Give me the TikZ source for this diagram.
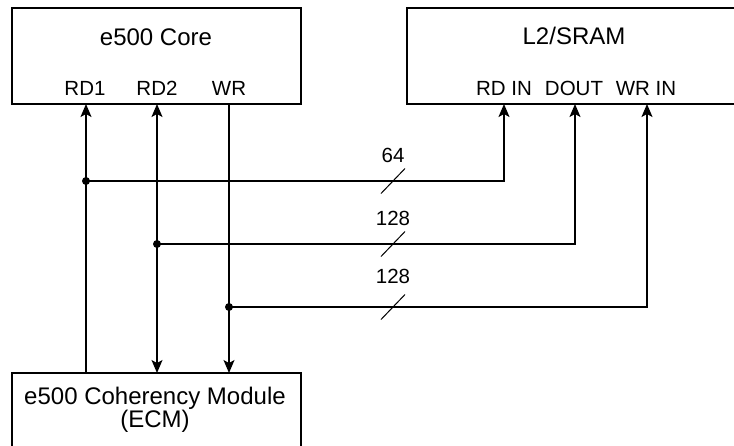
\documentclass[tikz,border=0pt]{standalone}
\usepackage{fontspec}
\setmainfont{Liberation Sans}
\usetikzlibrary{arrows.meta}
\begin{document}
\begin{tikzpicture}[x=1pt,y=-1pt,
  blk/.style={draw,line width=1.6pt,rectangle,inner sep=0pt},
  ttl/.style={font=\fontsize{24}{24}\selectfont,anchor=base,inner sep=0pt},
  lbl/.style={font=\fontsize{20.5}{22}\selectfont,anchor=base,inner sep=0pt},
  wire/.style={line width=1.3pt},
  arr/.style={wire,-{Stealth[length=13pt,width=11pt,inset=3pt]}},
  darr/.style={wire,{Stealth[length=13pt,width=11pt,inset=3pt]}-{Stealth[length=13pt,width=11pt,inset=3pt]}},
  dot/.style={circle,fill,inner sep=0pt,minimum size=8pt},
  slash/.style={line width=1pt}]
\useasboundingbox (0,0) rectangle (734,445);
% boxes
\node[blk,minimum width=289pt,minimum height=96pt] (core) at (156.5,56) {};
\node[blk,minimum width=334pt,minimum height=96pt] (l2) at (574,56) {};
\node[blk,minimum width=289pt,minimum height=90pt] (ecm) at (156.5,418) {};
% titles
\node[ttl] (coret) at (156,45) {e500 Core};
\node[ttl] (l2t) at (574,44) {L2/SRAM};
\node[font=\fontsize{24}{22}\selectfont,align=center,inner sep=0pt] (ecmt) at (155,410) {e500 Coherency Module\\(ECM)};
% port labels
\node[lbl] (rd1l) at (85,95) {RD1};
\node[lbl] (rd2l) at (157,95) {RD2};
\node[lbl] (wrl) at (229,95) {WR};
\node[lbl] (rdinl) at (504,95) {RD IN};
\node[lbl] (doutl) at (574,95) {DOUT};
\node[lbl] (wrinl) at (646,95) {WR IN};
% port coordinates
\coordinate (c1) at (86,104);
\coordinate (c2) at (157,104);
\coordinate (c3) at (229,104);
\coordinate (e1) at (86,373);
\coordinate (e2) at (157,373);
\coordinate (e3) at (229,373);
\coordinate (p1) at (504,104);
\coordinate (p2) at (575,104);
\coordinate (p3) at (647,104);
\coordinate (j1) at (86,181);
\coordinate (j2) at (157,244);
\coordinate (j3) at (229,307);
% vertical buses
\draw[arr] (e1) -- (c1);
\draw[darr] (e2) -- (c2);
\draw[arr] (c3) -- (e3);
% branches to L2
\draw[arr] (j1) -| (p1);
\draw[arr] (j2) -| (p2);
\draw[arr] (j3) -| (p3);
\node[dot] (d1) at (j1) {};
\node[dot] (d2) at (j2) {};
\node[dot] (d3) at (j3) {};
% bus width marks
\draw[slash] (381,193.5) -- (405,168.5);
\draw[slash] (381,256.5) -- (405,231.5);
\draw[slash] (381,319.5) -- (405,294.5);
\node[lbl] (w1) at (393,162) {64};
\node[lbl] (w2) at (393,225) {128};
\node[lbl] (w3) at (393,283) {128};
\end{tikzpicture}
\end{document}
